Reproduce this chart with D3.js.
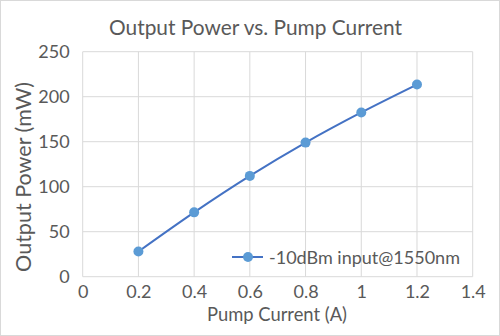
<!DOCTYPE html>
<html><head><meta charset="utf-8">
<script src="https://cdn.jsdelivr.net/npm/d3@7"></script>
<style>body{margin:0;background:#fff;} text{font-family:Lato,"Open Sans","Liberation Sans",sans-serif;fill:#595959;}</style>
</head><body><svg id="c" width="500" height="336"></svg>
<script>
const currents = [0.2, 0.4, 0.6, 0.8, 1.0, 1.2];
const powers = [28, 71.5, 112, 149, 182.5, 213.5];
const xTicks = [0, 0.2, 0.4, 0.6, 0.8, 1, 1.2, 1.4];
const yTicks = [0, 50, 100, 150, 200, 250];
const seriesName = "-10dBm input@1550nm";

function fit(sel, target){
  const n = sel.node(); const s0 = 20; sel.attr("font-size", s0);
  const w = n.getComputedTextLength(); sel.attr("font-size", s0*target/w);
}
const svg = d3.select("#c");
svg.append("rect").attr("x",0.5).attr("y",0.5).attr("width",499).attr("height",335).attr("fill","#fff").attr("stroke","#d9d9d9");
const L=82.7,R=472.7,T=51.7,B=276.7;
const x = d3.scaleLinear().domain([0,1.4]).range([L,R]);
const y = d3.scaleLinear().domain([0,250]).range([B,T]);
const g = svg.append("g");
g.selectAll(".vx").data(xTicks).join("line").attr("x1",d=>x(d)).attr("x2",d=>x(d)).attr("y1",T).attr("y2",B).attr("stroke","#d9d9d9").attr("stroke-width",1);
g.selectAll(".hy").data(yTicks).join("line").attr("x1",L).attr("x2",R).attr("y1",d=>y(d)).attr("y2",d=>y(d)).attr("stroke","#d9d9d9").attr("stroke-width",1);
const xa = svg.append("g").attr("transform",`translate(0,${B})`).call(d3.axisBottom(x).tickValues(xTicks).tickFormat(d=>String(+d.toFixed(1))).tickSize(0).tickPadding(9));
xa.select(".domain").remove();
xa.attr("font-family",null).attr("font-size",null);
xa.selectAll("text").attr("font-size",18);
const ya = svg.append("g").attr("transform",`translate(${L},0)`).call(d3.axisLeft(y).tickValues(yTicks).tickSize(0).tickPadding(13));
ya.select(".domain").remove();
ya.attr("font-family",null).attr("font-size",null);
ya.selectAll("text").attr("font-size",18);
svg.selectAll(".tick text").attr("fill","#595959");
const data = currents.map((c,i)=>({c,p:powers[i]}));
svg.append("path").datum(data).attr("fill","none").attr("stroke","#4472C4").attr("stroke-width",2)
 .attr("d",d3.line().x(d=>x(d.c)).y(d=>y(d.p)).curve(d3.curveMonotoneX));
svg.selectAll(".pt").data(data).join("circle").attr("cx",d=>x(d.c)).attr("cy",d=>y(d.p)).attr("r",5).attr("fill","#5B9BD5");
fit(svg.append("text").attr("x",255.5).attr("y",35).attr("text-anchor","middle").text("Output Power vs. Pump Current"), 293);
fit(svg.append("text").attr("transform","translate(31,177) rotate(-90)").attr("text-anchor","middle").text("Output Power (mW)"), 190);
fit(svg.append("text").attr("x",277).attr("y",321).attr("text-anchor","middle").text("Pump Current (A)"), 140);
const lg = svg.append("g");
lg.append("line").attr("x1",232).attr("x2",263).attr("y1",257).attr("y2",257).attr("stroke","#4472C4").attr("stroke-width",2);
lg.append("circle").attr("cx",248).attr("cy",257).attr("r",5).attr("fill","#5B9BD5");
fit(lg.append("text").attr("x",269).attr("y",264).text(seriesName), 191);
</script></body></html>
